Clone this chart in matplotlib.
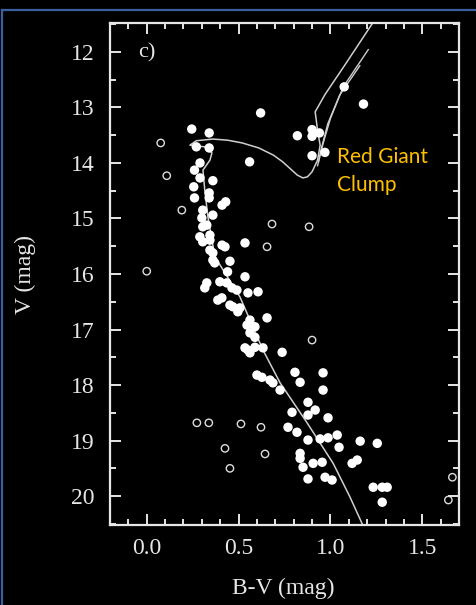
import matplotlib
matplotlib.use('Agg')
import matplotlib.pyplot as plt
from matplotlib.lines import Line2D
from matplotlib.ticker import MultipleLocator

BG_COLOR = 'black'
FG_COLOR = '#e6e6e6'
LINE_COLOR = '#cfcfcf'
BORDER_COLOR = '#3c5fa0'
NOTE_COLOR = '#ffc000'

# cluster members (filled)
member_bv = [0.245, 0.34, 0.27, 0.34, 0.56, 0.62,
             0.82, 0.90, 0.94, 0.90, 0.90, 0.97, 1.075, 1.18,
             0.29, 0.26, 0.29, 0.36, 0.256, 0.34, 0.34, 0.41, 0.43, 0.26, 0.305, 0.36, 0.30,
             0.327, 0.305, 0.344, 0.289,
             0.305, 0.344, 0.41, 0.426, 0.535, 0.344, 0.36, 0.36, 0.37, 0.453, 0.44, 0.535,
             0.327, 0.316, 0.398, 0.436, 0.464, 0.491, 0.551, 0.606, 0.387, 0.409, 0.453,
             0.469, 0.507, 0.496, 0.562, 0.546, 0.589, 0.655, 0.562, 0.589, 0.535, 0.589, 0.633,
             0.551, 0.562, 0.737, 0.60, 0.627, 0.671, 0.687, 0.726, 0.807, 0.835, 0.96, 0.96,
             0.878, 0.917, 0.791, 0.878, 0.987, 0.769, 0.818, 0.878, 0.835, 0.835,
             0.944, 0.987, 1.037, 1.047, 1.162, 1.255, 0.851, 0.906, 0.955, 1.118, 1.146,
             0.878, 0.971, 1.009, 1.233, 1.282, 1.309, 1.282]
member_v = [13.39, 13.46, 13.71, 13.73, 13.98, 13.10,
            13.51, 13.40, 13.46, 13.52, 13.87, 13.81, 12.63, 12.94,
            14.00, 14.13, 14.27, 14.32, 14.43, 14.54, 14.63, 14.76, 14.70, 14.63, 14.85, 14.94, 14.99,
            15.12, 15.15, 15.30, 15.33,
            15.42, 15.39, 15.48, 15.51, 15.44, 15.57, 15.62, 15.75, 15.80, 15.77, 15.96, 16.05,
            16.16, 16.25, 16.14, 16.16, 16.25, 16.29, 16.34, 16.32, 16.47, 16.43, 16.56,
            16.59, 16.61, 16.68, 16.83, 16.92, 16.95, 16.79, 17.06, 17.14, 17.33, 17.32, 17.33,
            17.37, 17.42, 17.41, 17.82, 17.86, 17.91, 17.96, 18.09, 17.77, 17.95, 17.78, 18.09,
            18.31, 18.45, 18.49, 18.54, 18.59, 18.76, 18.85, 18.99, 19.23, 19.32,
            18.97, 18.95, 18.90, 19.12, 19.01, 19.05, 19.48, 19.41, 19.39, 19.41, 19.35,
            19.69, 19.66, 19.71, 19.84, 19.84, 19.84, 20.11]

# field stars (open)
field_bv = [0.076, 0.109, 0.191, 0.682, 0.884, 0.655, 0.0, 0.90, 0.273, 0.338,
            0.513, 0.622, 0.426, 0.644, 0.453, 1.664, 1.642]
field_v = [13.64, 14.23, 14.85, 15.10, 15.15, 15.51, 15.95, 17.19, 18.68, 18.68,
           18.70, 18.76, 19.14, 19.24, 19.50, 19.66, 20.07]

# isochrone, from the lower main sequence up to the giant branch
iso_bv = [1.18, 1.107, 1.015, 0.873, 0.726, 0.633, 0.507, 0.371, 0.333, 0.316, 0.306,
          0.344, 0.355, 0.316, 0.235, 0.27, 0.36, 0.44, 0.52, 0.61, 0.69, 0.74, 0.78,
          0.82, 0.85, 0.875, 0.90, 0.93, 0.944, 0.93, 0.917, 0.97, 1.08, 1.23]
iso_v = [20.55, 20.02, 19.41, 18.68, 17.96, 17.37, 16.41, 15.69, 14.97, 14.49, 14.13,
         13.95, 13.82, 13.71, 13.68, 13.60, 13.57, 13.59, 13.64, 13.73, 13.86, 13.98, 14.10,
         14.22, 14.27, 14.25, 14.16, 13.95, 13.68, 13.41, 13.08, 12.77, 12.23, 11.48]
hb1_bv = [1.206, 1.07, 1.00, 0.96, 0.93]
hb1_v = [11.96, 12.63, 13.20, 13.65, 14.05]
hb2_bv = [1.16, 1.05, 0.985, 0.95, 0.935]
hb2_v = [12.25, 12.78, 13.30, 13.75, 13.98]

plt.rcParams['font.family'] = ['Liberation Serif', 'DejaVu Serif']

fig = plt.figure(figsize=(4.77, 6.05), dpi=100, facecolor=BG_COLOR)
ax = fig.add_axes([110 / 477, 1 - 525 / 605, 349 / 477, 502 / 605])
ax.set_facecolor(BG_COLOR)

ax.plot(iso_bv, iso_v, color=LINE_COLOR, lw=1.1, zorder=2)
ax.plot(hb1_bv, hb1_v, color=LINE_COLOR, lw=1.0, zorder=2)
ax.plot(hb2_bv, hb2_v, color=LINE_COLOR, lw=1.0, zorder=2)
ax.scatter(member_bv, member_v, s=46, color='white', edgecolors='none', zorder=3)
ax.scatter(field_bv, field_v, s=28, facecolors='none', edgecolors='#dddddd', linewidths=1.0, zorder=3)

ax.set_xlim(-0.2, 1.7)
ax.set_ylim(20.52, 11.48)

ax.xaxis.set_major_locator(MultipleLocator(0.5))
ax.xaxis.set_minor_locator(MultipleLocator(0.1))
ax.yaxis.set_major_locator(MultipleLocator(1))
ax.yaxis.set_minor_locator(MultipleLocator(0.5))
ax.xaxis.set_major_formatter(lambda v, p: f'{v:.1f}')

for side in ax.spines.values():
    side.set_color(FG_COLOR)
    side.set_linewidth(1.6)
ax.tick_params(which='both', direction='in', top=True, right=True, colors=FG_COLOR, width=1.4)
ax.tick_params(which='major', length=8, labelsize=17, labelcolor=FG_COLOR)
ax.tick_params(which='minor', length=4)
ax.tick_params(axis='x', which='major', pad=9)
ax.tick_params(axis='y', which='major', pad=11)

ax.text(0.08, 0.94, 'c)', transform=ax.transAxes, color=FG_COLOR, fontsize=16, va='center')

fig.text(283 / 477, 1 - 588 / 605, 'B-V (mag)', color=FG_COLOR, fontsize=17, ha='center', va='center')
fig.text(25 / 477, 1 - 275 / 605, 'V (mag)', color=FG_COLOR, fontsize=17, ha='center', va='center', rotation=90)

fig.text(337 / 477, 1 - 157 / 605, 'Red Giant', color=NOTE_COLOR, fontsize=15,
         family=['Lato', 'DejaVu Sans'], ha='left', va='center')
fig.text(337 / 477, 1 - 185 / 605, 'Clump', color=NOTE_COLOR, fontsize=15,
         family=['Lato', 'DejaVu Sans'], ha='left', va='center')

# blue frame of the slide
fig.add_artist(Line2D([2 / 477, 1], [1 - 10 / 605, 1 - 10 / 605], color=BORDER_COLOR, lw=1.6))
fig.add_artist(Line2D([2 / 477, 2 / 477], [0, 1 - 10 / 605], color=BORDER_COLOR, lw=1.6))

fig.savefig('out.png', dpi=100, facecolor=BG_COLOR)
